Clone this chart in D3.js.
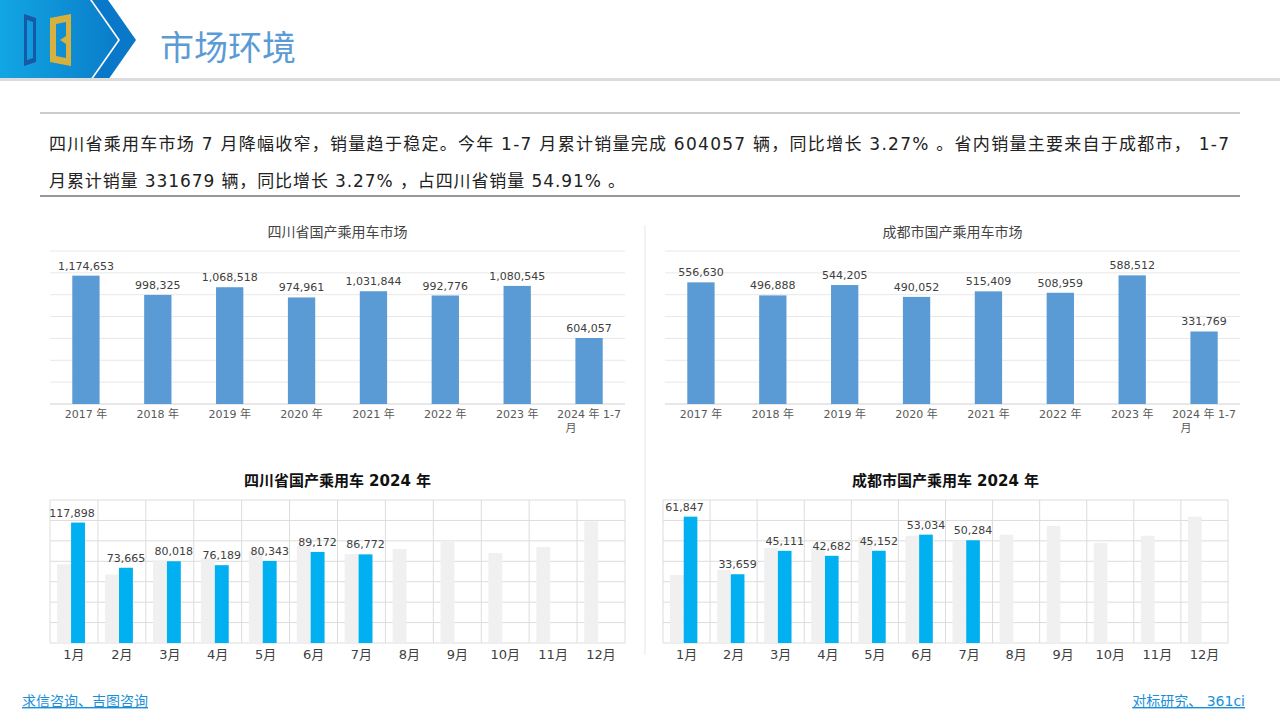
<html>
<head>
<meta charset="utf-8">
<style>
  body { margin:0; background:#fff; }
  svg text { font-family:"DejaVu Sans","Noto Sans CJK SC",sans-serif; }
</style>
</head>
<body>
<script src="https://d3js.org/d3.v7.min.js"></script>
<script>
var years = ['2017 年','2018 年','2019 年','2020 年','2021 年','2022 年','2023 年','2024 年 1-7|月']
var scYear = [1174653, 998325, 1068518, 974961, 1031844, 992776, 1080545, 604057]
var cdYear = [556630, 496888, 544205, 490052, 515409, 508959, 588512, 331769]
var months = ['1月','2月','3月','4月','5月','6月','7月','8月','9月','10月','11月','12月']
var sc2023 = [77000, 67000, 81000, 83000, 90000, 95000, 87000, 92000, 99000, 88000, 94000, 119000]
var sc2024 = [117898, 73665, 80018, 76189, 80343, 89172, 86772]
var cd2023 = [33300, 35800, 46500, 47000, 52000, 52500, 49500, 53000, 57300, 49000, 52500, 61800]
var cd2024 = [61847, 33659, 45111, 42682, 45152, 53034, 50284]

var W = 1280, H = 720
var svg = d3.select('body').append('svg').attr('width', W).attr('height', H)
var fmt = d3.format(',')

// header
var defs = svg.append('defs')
var g1 = defs.append('linearGradient').attr('id','hg').attr('x1','0').attr('x2','1')
g1.append('stop').attr('offset','0').attr('stop-color','#12a6e4')
g1.append('stop').attr('offset','1').attr('stop-color','#0a7cc8')
svg.append('polygon').attr('points','0,0 90,0 118,40 90,80 0,80').attr('fill','url(#hg)')
svg.append('polygon').attr('points','92,0 108,0 136,40 108,80 92,80 120,40').attr('fill','#0a78c8')
svg.append('path').attr('d','M24 14 L36 18 L36 62 L24 66 Z M27 20 L33 22 L33 58 L27 60 Z').attr('fill','#1559a8').attr('fill-rule','evenodd')
svg.append('path').attr('d','M50 18 L71 14 L71 66 L50 62 Z M56 24 L66 22 L66 36 L60 40 L66 44 L66 58 L56 56 Z').attr('fill','#d8b040').attr('fill-rule','evenodd')
svg.append('text').attr('x',160).attr('y',60).attr('font-size',34).attr('fill','#5b9bd5').attr('font-family','Noto Sans CJK SC').text('市场环境')
svg.append('rect').attr('x',0).attr('y',78).attr('width',W).attr('height',3).attr('fill','#dcdcdc')

// intro text
svg.append('line').attr('x1',40).attr('x2',1240).attr('y1',113).attr('y2',113).attr('stroke','#bbb').attr('stroke-width',1.5)
svg.append('line').attr('x1',40).attr('x2',1240).attr('y1',196).attr('y2',196).attr('stroke','#333')
svg.append('text').attr('x',49).attr('y',150).attr('font-size',17).attr('fill','#222')
  .attr('textLength',1180).attr('lengthAdjust','spacing')
  .text('四川省乘用车市场 7 月降幅收窄，销量趋于稳定。今年 1-7 月累计销量完成 604057 辆，同比增长 3.27% 。省内销量主要来自于成都市， 1-7')
svg.append('text').attr('x',49).attr('y',187).attr('font-size',17).attr('fill','#222')
  .attr('textLength',576).attr('lengthAdjust','spacing')
  .text('月累计销量 331679 辆，同比增长 3.27% ，占四川省销量 54.91% 。')

svg.append('line').attr('x1',645).attr('x2',645).attr('y1',225).attr('y2',655).attr('stroke','#e6e6e6')

function yearChart(x0, x1, title, vals, max) {
  var top = 251, bot = 404
  var x = d3.scaleBand().domain(years).range([x0, x1]).paddingInner(0.62).paddingOuter(0.31)
  var y = d3.scaleLinear().domain([0, max]).range([bot, top])
  var g = svg.append('g')
  g.append('text').attr('x',(x0+x1)/2).attr('y',237).attr('text-anchor','middle').attr('font-size',14).attr('fill','#444').text(title)
  g.selectAll('.gl').data(y.ticks(7)).enter().append('line')
    .attr('x1',x0).attr('x2',x1).attr('y1',d=>y(d)).attr('y2',d=>y(d))
    .attr('stroke', d => d === 0 ? '#d0d0d0' : '#e8e8e8')
  g.selectAll('.b').data(vals).enter().append('rect')
    .attr('x',(d,i)=>x(years[i])).attr('width',x.bandwidth())
    .attr('y',d=>y(d)).attr('height',d=>bot-y(d)).attr('fill','#5b9bd5')
  g.selectAll('.l').data(vals).enter().append('text')
    .attr('x',(d,i)=>x(years[i])+x.bandwidth()/2).attr('y',d=>y(d)-6)
    .attr('text-anchor','middle').attr('font-size',11).attr('fill','#404040').text(d=>fmt(d))
  years.forEach(function(c){
    var parts = c.split('|')
    parts.forEach(function(p,k){
      g.append('text').attr('x',x(c)+x.bandwidth()/2 + (k ? -18 : 0)).attr('y',418+k*14)
        .attr('text-anchor','middle').attr('font-size',11).attr('fill','#595959').text(p)
    })
  })
}
yearChart(50, 625, '四川省国产乘用车市场', scYear, 1400000)
yearChart(665, 1240, '成都市国产乘用车市场', cdYear, 700000)

function monthChart(x0, x1, title, prev, cur, max, step) {
  var top = 500, bot = 643
  var x = d3.scaleBand().domain(months).range([x0, x1])
  var y = d3.scaleLinear().domain([0, max]).range([bot, top])
  var g = svg.append('g')
  g.append('text').attr('x',(x0+x1)/2).attr('y',486).attr('text-anchor','middle').attr('font-size',15).attr('font-weight','bold').attr('fill','#111').text(title)
  g.selectAll('.gl').data(d3.range(0, max+1, step)).enter().append('line')
    .attr('x1',x0).attr('x2',x1).attr('y1',d=>y(d)).attr('y2',d=>y(d)).attr('stroke','#dcdcdc')
  g.selectAll('.vl').data(months.concat(['end'])).enter().append('line')
    .attr('x1',(d,i)=>x0+i*x.step()).attr('x2',(d,i)=>x0+i*x.step())
    .attr('y1',top).attr('y2',bot).attr('stroke','#dcdcdc')
  var bw = x.step()*0.29
  g.selectAll('.p').data(prev).enter().append('rect')
    .attr('x',(d,i)=>x(months[i])+x.step()*0.15).attr('width',bw)
    .attr('y',d=>y(d)).attr('height',d=>bot-y(d)).attr('fill','#f0f0f0')
  g.selectAll('.c').data(cur).enter().append('rect')
    .attr('x',(d,i)=>x(months[i])+x.step()*0.15+bw).attr('width',bw)
    .attr('y',d=>y(d)).attr('height',d=>bot-y(d)).attr('fill','#00b0f0')
  g.selectAll('.l').data(cur).enter().append('text')
    .attr('x',(d,i)=>x(months[i])+x.step()*0.15+bw*1.5 - (i===0?6:0)).attr('y',d=>y(d)-6)
    .attr('text-anchor','middle').attr('font-size',11).attr('fill','#404040').text(d=>fmt(d))
  g.selectAll('.m').data(months).enter().append('text')
    .attr('x',d=>x(d)+x.step()/2).attr('y',659).attr('text-anchor','middle')
    .attr('font-size',13).attr('fill','#404040').text(d=>d)
}
monthChart(50, 625, '四川省国产乘用车 2024 年', sc2023, sc2024, 140000, 20000)
monthChart(663, 1228, '成都市国产乘用车 2024 年', cd2023, cd2024, 70000, 10000)

// footer
svg.append('text').attr('x',22).attr('y',706).attr('font-size',14).attr('fill','#1a8fd8').attr('text-decoration','underline').text('求信咨询、吉图咨询')
svg.append('text').attr('x',1245).attr('y',706).attr('text-anchor','end').attr('font-size',14).attr('fill','#1a8fd8').attr('text-decoration','underline').text('对标研究、 361ci')
</script>
</body>
</html>
